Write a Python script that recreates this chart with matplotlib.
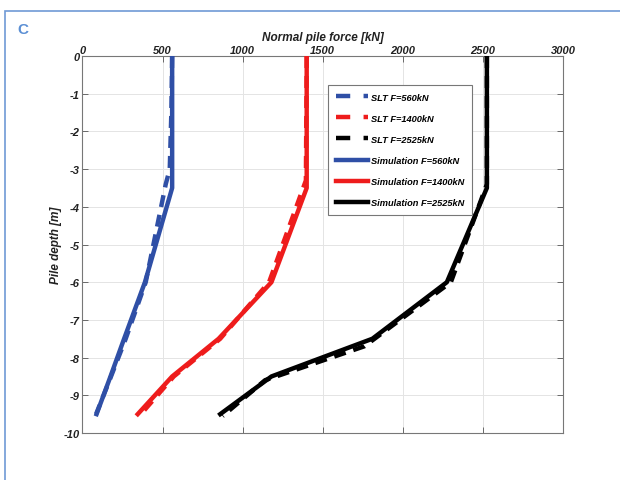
import matplotlib.pyplot as plt
from matplotlib.patches import Rectangle

# ── Data ───────────────────────────────────────────────────────────────────
depth_sim = [0.0, -3.5, -6.0, -7.5, -8.5, -9.5]
sim_560 = [560, 560, 390, 260, 175, 88]
sim_1400 = [1400, 1400, 1180, 850, 560, 345]
sim_2525 = [2525, 2525, 2275, 1810, 1180, 860]

depth_slt_560 = [0.0, -1.5, -3.0, -3.4, -6.0, -7.5, -8.7, -9.5]
slt_560 = [560, 555, 545, 520, 395, 270, 160, 85]
depth_slt_1400 = [0.0, -3.3, -6.0, -7.5, -8.5, -9.55]
slt_1400 = [1400, 1395, 1165, 860, 570, 355]
depth_slt_2525 = [0.0, -3.4, -6.0, -7.7, -8.6, -9.55]
slt_2525 = [2525, 2525, 2300, 1760, 1140, 875]

x_ticks = [0, 500, 1000, 1500, 2000, 2500, 3000]
y_ticks = [0, -1, -2, -3, -4, -5, -6, -7, -8, -9, -10]

BLUE = "#2f4fa6"
RED = "#ee1c1c"
BLACK = "#000000"

plt.rcParams["font.family"] = ["Liberation Sans", "DejaVu Sans"]
plt.rcParams["font.weight"] = "bold"
plt.rcParams["font.style"] = "italic"
plt.rcParams["axes.unicode_minus"] = False

# ── Figure ─────────────────────────────────────────────────────────────────
fig = plt.figure(figsize=(6.2, 4.81), dpi=100)
ax = fig.add_axes([0.133, 0.0977, 0.775, 0.7838])

dash = (2.7, 1.8)
lw = 3.2
ax.plot(slt_560, depth_slt_560, color=BLUE, lw=lw, ls=(0, dash), label="SLT F=560kN", zorder=3)
ax.plot(slt_1400, depth_slt_1400, color=RED, lw=lw, ls=(0, dash), label="SLT F=1400kN", zorder=3)
ax.plot(slt_2525, depth_slt_2525, color=BLACK, lw=lw, ls=(0, dash), label="SLT F=2525kN", zorder=3)
ax.plot(sim_560, depth_sim, color=BLUE, lw=lw, label="Simulation F=560kN", zorder=4)
ax.plot(sim_1400, depth_sim, color=RED, lw=lw, label="Simulation F=1400kN", zorder=4)
ax.plot(sim_2525, depth_sim, color=BLACK, lw=lw, label="Simulation F=2525kN", zorder=4)

ax.set_xlim(0, 3000)
ax.set_ylim(-10, 0)
ax.set_xticks(x_ticks)
ax.set_yticks(y_ticks)
ax.xaxis.tick_top()
ax.xaxis.set_label_position("top")
ax.tick_params(axis="both", direction="in", length=4, width=0.6, color="#555555",
               labelsize=8, top=True, bottom=True, left=True, right=True,
               labeltop=True, labelbottom=False, pad=2)
ax.tick_params(axis="x", pad=1)
for lab in ax.get_xticklabels() + ax.get_yticklabels():
    lab.set_fontweight("bold")
    lab.set_fontstyle("italic")
    lab.set_color("#222222")
ax.set_xlabel("Normal pile force [kN]", fontsize=8.5, fontweight="bold",
              fontstyle="italic", color="#222222", labelpad=3)
ax.set_ylabel("Pile depth [m]", fontsize=8.5, fontweight="bold",
              fontstyle="italic", color="#222222", labelpad=1)
ax.grid(True, color="#e4e4e4", lw=0.7)
ax.set_axisbelow(True)
for sp in ax.spines.values():
    sp.set_color("#777777")
    sp.set_linewidth(0.8)

# legend handles: one dash pattern period shown as long dash + short dash
handles, labels = ax.get_legend_handles_labels()
leg = ax.legend(handles, labels, loc="upper left", bbox_to_anchor=(0.512, 0.924),
                handlelength=3.4, handletextpad=0.3, labelspacing=1.3,
                borderpad=0.85, borderaxespad=0, fancybox=False, framealpha=1,
                prop={"weight": "bold", "style": "italic", "size": 6.7})
leg.get_frame().set_edgecolor("#777777")
leg.get_frame().set_linewidth(0.8)
for line in leg.get_lines()[:3]:
    line.set_linestyle((0, (3.2, 3.0)))

# ── Panel frame and letter ────────────────────────────────────────────────
fig.patches.append(Rectangle((5 / 620, -0.1), 1.2, 1 - 12 / 481 + 0.1,
                             transform=fig.transFigure, fill=False,
                             edgecolor="#6f9ad6", lw=1.2))
fig.text(17 / 620, 1 - 30 / 481, "C", color="#5b8fd4", fontsize=11,
         fontweight="bold", fontstyle="normal", va="center", ha="left")

fig.savefig("out.png", dpi=100)
plt.close(fig)
